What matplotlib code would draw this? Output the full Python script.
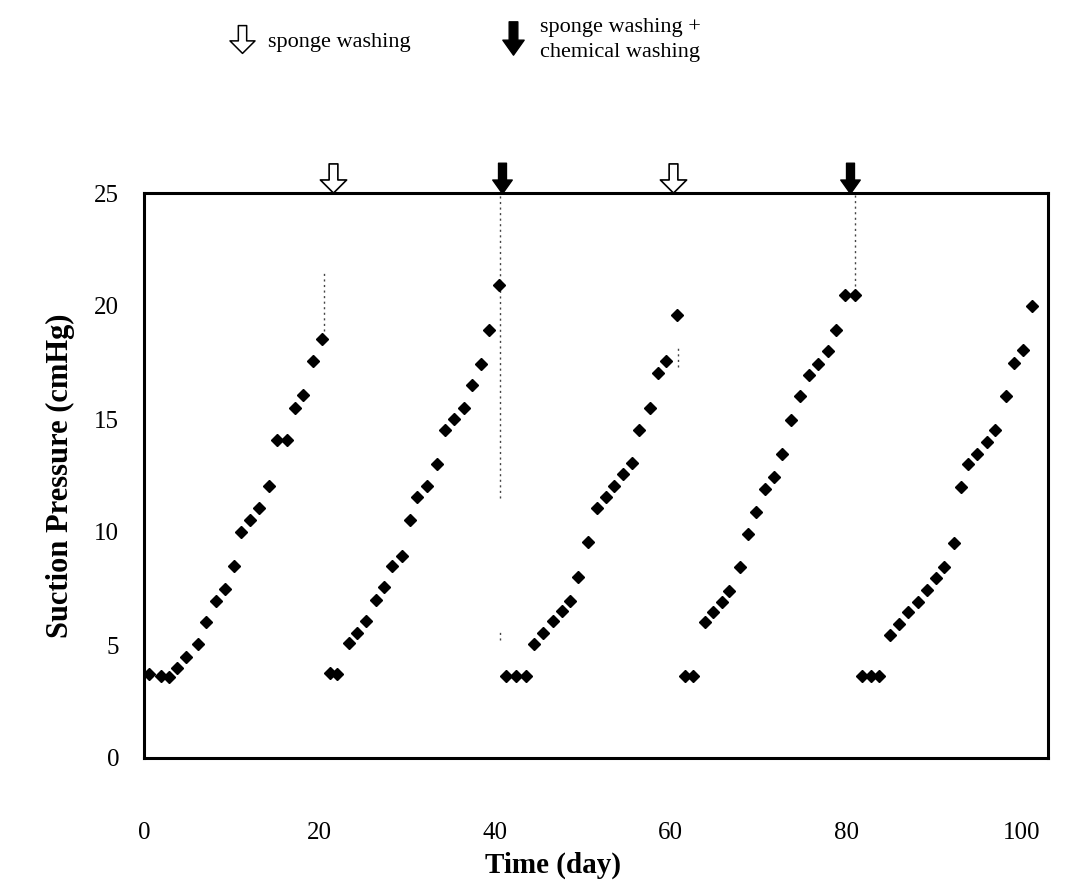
import matplotlib
matplotlib.use("Agg")
import matplotlib.pyplot as plt
from matplotlib.path import Path
from matplotlib.lines import Line2D
import matplotlib.transforms as mtransforms

plt.rcParams['font.family'] = ['Liberation Serif', 'DejaVu Serif']

# ---- data (day, suction pressure cmHg) ----
days = [0.6, 1.9, 2.9, 3.8, 4.8, 6.2, 7.1, 8.2, 9.2, 10.2, 11.1, 12.1, 13.1, 14.2, 15.1, 16.25, 17.2, 18.1, 19.3, 20.25,
        21.2, 22.0, 23.4, 24.3, 25.3, 26.4, 27.4, 28.25, 29.4, 30.35, 31.1, 32.25, 33.4, 34.35, 35.3, 36.45, 37.35, 38.35, 39.3, 40.45,
        41.2, 42.35, 43.5, 44.45, 45.5, 46.55, 47.6, 48.55, 49.5, 50.6, 51.6, 52.65, 53.6, 54.55, 55.6, 56.45, 57.7, 58.6, 59.5, 60.75,
        61.6, 62.5, 63.9, 64.8, 65.8, 66.7, 67.9, 68.8, 69.7, 70.8, 71.8, 72.7, 73.7, 74.8, 75.8, 76.8, 77.9, 78.9, 79.9, 81.0,
        81.8, 82.8, 83.8, 85.0, 86.0, 87.1, 88.2, 89.2, 90.2, 91.1, 92.3, 93.1, 93.9, 94.9, 96.0, 97.0, 98.2, 99.1, 100.1, 101.2]
pressure = [3.7, 3.65, 3.6, 4.0, 4.45, 5.05, 6.0, 6.95, 7.5, 8.5, 10.0, 10.55, 11.05, 12.05, 14.05, 14.05, 15.5, 16.05, 17.55, 18.55,
            3.75, 3.7, 5.1, 5.55, 6.05, 7.0, 7.55, 8.5, 8.95, 10.55, 11.55, 12.05, 13.0, 14.5, 15.0, 15.5, 16.5, 17.45, 18.95, 20.95,
            3.65, 3.65, 3.65, 5.05, 5.55, 6.05, 6.5, 6.95, 8.0, 9.55, 11.05, 11.55, 12.05, 12.55, 13.05, 14.5, 15.5, 17.05, 17.55, 19.6,
            3.65, 3.65, 6.0, 6.45, 6.9, 7.4, 8.45, 9.9, 10.9, 11.9, 12.45, 13.45, 14.95, 16.0, 16.95, 17.45, 18.0, 18.95, 20.5, 20.5,
            3.65, 3.65, 3.65, 5.45, 5.95, 6.45, 6.9, 7.45, 7.95, 8.45, 9.5, 12.0, 13.0, 13.45, 14.0, 14.5, 16.0, 17.5, 18.05, 20.0]

# washing events: day and type (open = sponge washing, filled = sponge + chemical)
wash_days = [21.5, 40.8, 60.3, 80.4]
wash_filled = [False, True, False, True]

# faint dotted guide lines seen at washing days (day, ymin, ymax)
guide_days = [20.5, 40.6, 40.6, 60.8, 81.0]
guide_ymin = [18.9, 11.5, 5.2, 17.3, 20.9]
guide_ymax = [21.6, 25.0, 5.6, 18.2, 25.0]

x_ticks = [0, 20, 40, 60, 80, 100]
y_ticks = [0, 5, 10, 15, 20, 25]

# ---- arrow marker shapes ----
arrow_codes = [Path.MOVETO] + [Path.LINETO] * 6 + [Path.CLOSEPOLY]
arrow_path = Path([(-0.15, 0.5), (0.15, 0.5), (0.15, -0.05), (0.45, -0.05), (0.0, -0.5),
                   (-0.45, -0.05), (-0.15, -0.05), (-0.15, 0.5)], arrow_codes)
arrow_path_f = Path([(-0.13, 0.5), (0.13, 0.5), (0.13, -0.05), (0.32, -0.05), (0.0, -0.5),
                     (-0.32, -0.05), (-0.13, -0.05), (-0.13, 0.5)], arrow_codes)

fig = plt.figure(figsize=(10.72, 8.81), dpi=100)
ax = fig.add_axes([144 / 1072, 1 - 758 / 881, (1048 - 144) / 1072, (758 - 193) / 881])

ax.plot(days, pressure, linestyle='none', marker='D', ms=6.3, color='black', zorder=3)

ax.vlines(guide_days, guide_ymin, guide_ymax, colors='#444444', linestyles=(0, (1.5, 2.5)), linewidth=1.0, zorder=2)

ax.set_xlim(0, 103)
ax.set_ylim(0, 25)
ax.set_xticks(x_ticks)
ax.set_yticks(y_ticks)
ax.tick_params(length=0, labelsize=18)
ax.tick_params(axis='x', pad=46)
ax.tick_params(axis='y', pad=18)
for s in ax.spines.values():
    s.set_linewidth(2.2)
    s.set_color('black')

ax.set_xlabel('Time (day)', fontsize=21, fontweight='bold')
ax.xaxis.set_label_coords(0.452, -0.165)
ax.set_ylabel('Suction Pressure (cmHg)', fontsize=22, fontweight='bold', labelpad=14)

# arrows above the plot
trans = mtransforms.blended_transform_factory(ax.transData, ax.transAxes)
for d, filled in zip(wash_days, wash_filled):
    if filled:
        ax.plot([d], [1.026], marker=arrow_path_f, ms=22, mfc='black', mec='black', mew=1,
                transform=trans, clip_on=False, linestyle='none')
    else:
        ax.plot([d], [1.026], marker=arrow_path, ms=21, mfc='white', mec='black', mew=1.2,
                transform=trans, clip_on=False, linestyle='none')

# legend at top
fig.add_artist(Line2D([242 / 1072], [1 - 39 / 881], marker=arrow_path, ms=20, mfc='white', mec='black',
                      mew=1.1, linestyle='none', transform=fig.transFigure))
fig.text(268 / 1072, 1 - 42 / 881, 'sponge washing', fontsize=16, ha='left', va='center')
fig.add_artist(Line2D([513 / 1072], [1 - 38 / 881], marker=arrow_path_f, ms=24, mfc='black', mec='black',
                      mew=1, linestyle='none', transform=fig.transFigure))
fig.text(540 / 1072, 1 - 40 / 881, 'sponge washing +\nchemical washing', fontsize=16, ha='left', va='center',
         linespacing=1.45)

fig.savefig('out.png', dpi=100)
